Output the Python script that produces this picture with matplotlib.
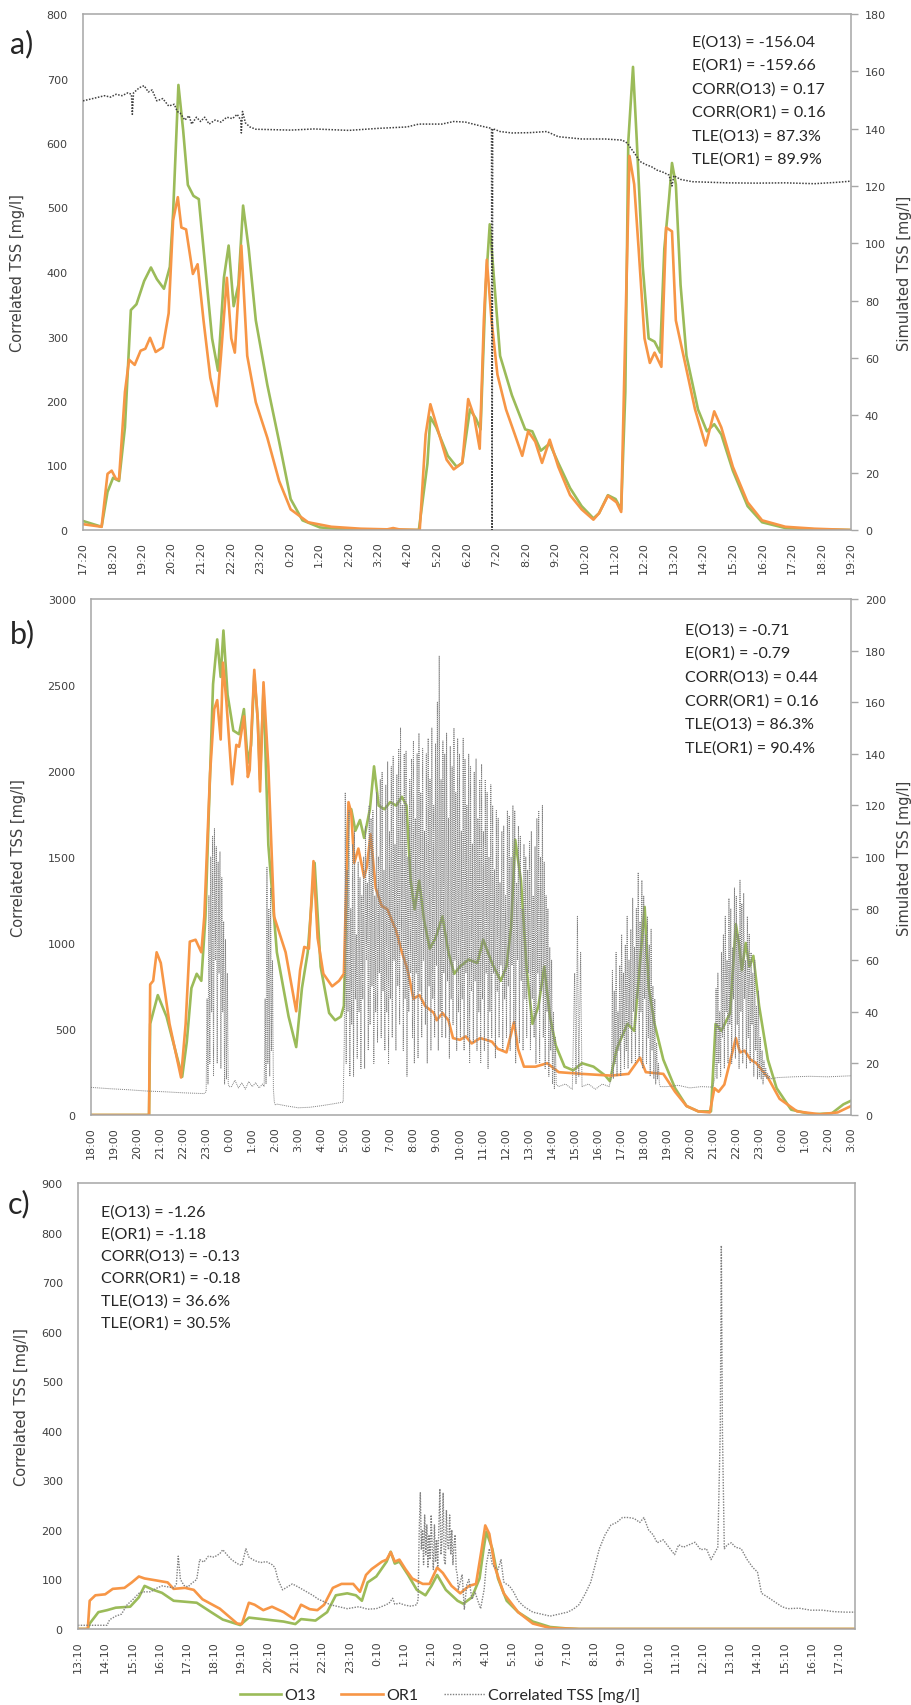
import numpy as np
import matplotlib.pyplot as plt

# series colours (Excel 2010 palette)
GREEN = '#9BBB59'
ORANGE = '#F79646'
SPINE = '#A6A6A6'
TXT = '#404040'

# ---------------- panel a: hours since 17:20 ----------------
ticks_a = ['17:20', '18:20', '19:20', '20:20', '21:20', '22:20', '23:20', '0:20', '1:20',
           '2:20', '3:20', '4:20', '5:20', '6:20', '7:20', '8:20', '9:20', '10:20', '11:20',
           '12:20', '13:20', '14:20', '15:20', '16:20', '17:20', '18:20', '19:20']

o13_a = [(0, 14), (0.63, 5), (0.83, 59), (1.02, 81), (1.22, 76), (1.42, 159), (1.62, 341),
         (1.81, 350), (2.07, 386), (2.30, 407), (2.50, 389), (2.74, 374), (2.94, 408),
         (3.05, 491), (3.23, 690), (3.39, 620), (3.55, 535), (3.74, 518), (3.92, 513),
         (4.08, 436), (4.37, 297), (4.57, 247), (4.77, 391), (4.93, 441), (5.10, 347),
         (5.26, 380), (5.42, 503), (5.61, 436), (5.85, 325), (6.24, 225), (6.64, 137),
         (7.03, 48), (7.43, 15), (8.02, 4), (9.0, 0.5), (11.37, 0), (11.66, 103), (11.76, 175),
         (11.96, 159), (12.35, 115), (12.65, 98), (12.84, 104), (13.1, 187), (13.3, 173),
         (13.46, 156), (13.63, 375), (13.77, 474), (13.93, 380), (14.12, 270), (14.52, 209),
         (14.97, 156), (15.21, 153), (15.5, 123), (15.8, 134), (16.09, 104), (16.49, 65),
         (16.88, 37), (17.28, 18), (17.47, 26), (17.77, 54), (18.03, 48), (18.22, 32),
         (18.36, 214), (18.46, 602), (18.62, 718), (18.75, 602), (18.95, 408), (19.15, 297),
         (19.35, 292), (19.54, 275), (19.68, 436), (19.84, 514), (19.94, 569), (20.07, 536),
         (20.23, 380), (20.43, 270), (20.82, 187), (21.12, 153), (21.37, 164), (21.61, 148),
         (22.0, 92), (22.5, 37), (22.99, 12), (23.78, 3), (24.76, 1), (26, 0)]

or1_a = [(0, 9), (0.63, 5), (0.83, 87), (0.97, 92), (1.12, 79), (1.22, 79), (1.42, 214),
         (1.56, 264), (1.75, 256), (1.95, 278), (2.11, 281), (2.27, 298), (2.46, 276),
         (2.70, 283), (2.90, 336), (3.05, 480), (3.21, 516), (3.33, 469), (3.49, 466),
         (3.72, 397), (3.88, 412), (4.08, 325), (4.31, 236), (4.53, 192), (4.67, 270),
         (4.87, 391), (5.02, 297), (5.14, 275), (5.36, 441), (5.56, 270), (5.85, 198),
         (6.24, 143), (6.64, 76), (7.03, 32), (7.62, 12), (8.41, 5), (9.40, 2), (10.3, 1),
         (10.5, 3), (10.7, 1), (11.4, 0), (11.6, 148), (11.76, 195), (12.06, 148),
         (12.31, 109), (12.55, 94), (12.84, 104), (13.04, 203), (13.24, 176), (13.43, 126),
         (13.57, 325), (13.67, 419), (13.83, 325), (14.03, 241), (14.32, 187), (14.62, 148),
         (14.87, 115), (15.07, 153), (15.31, 137), (15.54, 104), (15.8, 140), (16.09, 98),
         (16.49, 54), (16.88, 32), (17.28, 16), (17.47, 26), (17.77, 53), (18.06, 43),
         (18.22, 28), (18.34, 270), (18.5, 580), (18.66, 536), (18.81, 436), (19.01, 297),
         (19.19, 259), (19.35, 275), (19.58, 253), (19.74, 469), (19.94, 463), (20.07, 325),
         (20.33, 270), (20.72, 187), (21.08, 131), (21.37, 184), (21.61, 159), (22.0, 98),
         (22.5, 43), (22.99, 15), (23.78, 5), (24.76, 2), (26, 0)]

sim_a = [(0, 149.7), (0.33, 150.5), (0.53, 151), (0.73, 151.5), (0.93, 151), (1.12, 152),
         (1.32, 151.5), (1.52, 152.5), (1.64, 152), (1.67, 145), (1.71, 152.5), (1.91, 154.3),
         (2.07, 155), (2.21, 152.8), (2.34, 153.5), (2.5, 149.7), (2.7, 150.5), (2.9, 147.9),
         (3.09, 148.5), (3.19, 146), (3.29, 145.4), (3.45, 143), (3.59, 144.5), (3.68, 141.6),
         (3.84, 144), (3.98, 142.5), (4.12, 144), (4.27, 141.6), (4.47, 143), (4.67, 142.3),
         (4.87, 144), (5.06, 143.5), (5.22, 145), (5.34, 143), (5.36, 138.5), (5.4, 146),
         (5.5, 142), (5.65, 140.6), (5.85, 139.8), (7.03, 139.5), (7.82, 139.9), (9.0, 139.4),
         (9.99, 140.1), (10.97, 140.6), (11.37, 141.6), (12.15, 141.6), (12.55, 142.5),
         (12.94, 142.3), (13.44, 141), (13.83, 140.1), (13.85, 0), (13.87, 140), (14.12, 139),
         (14.52, 138.5), (15.11, 138.6), (15.7, 139), (16.09, 137.2), (16.49, 136.8),
         (16.88, 136.4), (17.67, 136.4), (18.26, 136), (18.42, 135), (18.56, 133), (18.7, 131),
         (18.85, 128.6), (19.05, 127.5), (19.25, 126.7), (19.44, 125.5), (19.64, 124.8),
         (19.84, 123.8), (19.94, 120), (20.0, 123.6), (20.23, 122.3), (20.63, 121.5),
         (21.22, 121.3), (21.81, 121.1), (22.79, 121), (23.78, 121.1), (24.76, 120.8),
         (25.55, 121.3), (26, 121.7)]

stats_a = ['E(O13) = -156.04', 'E(OR1) = -159.66', 'CORR(O13) = 0.17',
           'CORR(OR1) = 0.16', 'TLE(O13) = 87.3%', 'TLE(OR1) = 89.9%']

# ---------------- panel b: hours since 18:00 ----------------
ticks_b = ['18:00', '19:00', '20:00', '21:00', '22:00', '23:00', '0:00', '1:00', '2:00',
           '3:00', '4:00', '5:00', '6:00', '7:00', '8:00', '9:00', '10:00', '11:00', '12:00',
           '13:00', '14:00', '15:00', '16:00', '17:00', '18:00', '19:00', '20:00', '21:00',
           '22:00', '23:00', '0:00', '1:00', '2:00', '3:00']

o13_b = [(0, 0), (2.52, 0), (2.57, 530), (2.90, 697), (3.28, 572), (3.96, 222), (4.16, 426),
         (4.36, 738), (4.59, 821), (4.79, 780), (4.97, 1154), (5.12, 1778), (5.30, 2505),
         (5.48, 2765), (5.63, 2547), (5.75, 2817), (5.93, 2443), (6.18, 2235), (6.43, 2214),
         (6.64, 2360), (6.81, 2048), (6.95, 2150), (7.09, 2560), (7.24, 2300), (7.34, 1950),
         (7.49, 2480), (7.70, 1570), (8.07, 946), (8.58, 572), (8.91, 395), (9.16, 738),
         (9.41, 946), (9.59, 1258), (9.71, 1466), (9.97, 863), (10.34, 593), (10.6, 551),
         (10.85, 572), (10.98, 634), (11.18, 1778), (11.30, 1778), (11.48, 1653),
         (11.68, 1715), (11.86, 1611), (12.11, 1778), (12.29, 2027), (12.49, 1799),
         (12.74, 1778), (12.99, 1819), (13.25, 1799), (13.5, 1850), (13.7, 1799), (13.88, 1362),
         (14.05, 1196), (14.25, 1362), (14.46, 1133), (14.71, 967), (14.96, 1029),
         (15.26, 1154), (15.52, 946), (15.77, 821), (16.02, 863), (16.4, 904), (16.78, 884),
         (17.03, 1019), (17.41, 884), (17.79, 780), (18.04, 863), (18.24, 1092), (18.42, 1600),
         (18.67, 1362), (18.92, 842), (19.17, 530), (19.43, 634), (19.68, 863), (19.93, 572),
         (20.18, 405), (20.56, 281), (20.94, 260), (21.32, 301), (21.82, 281), (22.33, 229),
         (22.53, 197), (22.83, 385), (23.29, 530), (23.59, 489), (24.04, 1210), (24.22, 738),
         (24.47, 530), (24.85, 322), (25.36, 156), (25.86, 52), (26.37, 21), (26.92, 21),
         (27.12, 530), (27.37, 489), (27.75, 593), (28.0, 1110), (28.13, 1000), (28.26, 842),
         (28.43, 1000), (28.59, 863), (28.76, 925), (29.01, 634), (29.39, 322), (29.77, 156),
         (30.4, 31), (31.29, 4), (32.17, 10), (32.67, 62), (33, 83)]

or1_b = [(0, 0), (2.52, 0), (2.57, 759), (2.70, 780), (2.85, 946), (3.03, 884), (3.41, 530),
         (3.91, 218), (4.11, 530), (4.29, 1008), (4.54, 1019), (4.79, 946), (4.92, 1154),
         (5.17, 1985), (5.35, 2360), (5.48, 2412), (5.63, 2183), (5.73, 2630), (5.88, 2401),
         (6.13, 1923), (6.31, 2152), (6.43, 2141), (6.64, 2318), (6.81, 1965), (6.89, 2006),
         (7.09, 2588), (7.24, 2297), (7.34, 1881), (7.49, 2516), (7.70, 2027), (7.95, 1154),
         (8.45, 946), (8.91, 603), (9.08, 842), (9.26, 977), (9.46, 967), (9.66, 1476),
         (9.84, 1029), (10.09, 821), (10.47, 748), (10.77, 780), (10.98, 821), (11.18, 1819),
         (11.30, 1757), (11.43, 1466), (11.61, 1549), (11.86, 1383), (11.98, 1445),
         (12.14, 1632), (12.36, 1320), (12.62, 1216), (12.87, 1196), (13.25, 1071),
         (13.50, 946), (13.75, 842), (14.0, 676), (14.26, 697), (14.51, 634), (14.89, 593),
         (15.01, 551), (15.26, 593), (15.52, 551), (15.72, 447), (16.02, 437), (16.27, 457),
         (16.53, 416), (16.9, 447), (17.16, 437), (17.41, 426), (17.66, 385), (18.04, 364),
         (18.37, 541), (18.54, 385), (18.8, 281), (19.3, 281), (19.81, 301), (20.31, 249),
         (21.32, 239), (22.58, 229), (23.34, 239), (23.84, 333), (24.09, 249), (24.85, 239),
         (25.36, 135), (25.86, 52), (26.37, 21), (26.87, 15), (27.07, 156), (27.25, 135),
         (27.5, 177), (28.0, 447), (28.18, 364), (28.38, 374), (28.64, 322), (28.89, 301),
         (29.39, 218), (29.9, 94), (30.66, 21), (31.66, 4), (32.42, 15), (33, 52)]

# simulated TSS, quiet stretches as (hour, value)
sim_b_quiet = [(0, 10.7), (0.8, 10.2), (1.6, 9.8), (2.4, 9.3), (3.2, 9.0), (4.0, 8.6),
               (4.9, 8.3), (6.1, 11), (6.25, 13.5), (6.4, 10.5), (6.55, 12.5), (6.7, 10),
               (6.85, 13), (7.0, 11), (7.15, 12.5), (7.3, 10.5), (7.45, 12), (8.1, 4.2),
               (8.5, 3.5), (9.0, 2.8), (9.5, 3.0), (10.0, 3.6), (10.5, 4.3), (10.95, 5),
               (20.3, 11), (20.6, 12), (20.9, 10), (21.0, 55), (21.06, 12), (21.12, 77),
               (21.18, 15), (21.26, 63), (21.32, 11), (21.6, 12), (21.9, 10), (22.2, 12),
               (22.5, 11), (25.0, 11), (25.5, 11.5), (26.0, 10.5), (26.5, 11), (27.0, 10.8),
               (29.8, 14.5), (30.5, 14.8), (31.2, 15), (32.0, 14.8), (33, 15.2)]

# simulated TSS, busy stretches logged every 0.04 h: (start hour, values)
sim_b_busy = [
    (5.0, [9, 45, 12, 85, 20, 100, 40, 108, 15, 111, 60, 104, 20, 98, 55, 102, 18, 92, 40,
           75, 12, 68, 14, 55, 12, 11]),
    (7.52, [11, 45, 12, 96, 20, 80, 15, 88, 25, 60, 10, 5, 4]),
    (11.0, [30, 125, 20, 95, 40, 118, 15, 80, 35, 105,
            15, 110, 45, 70, 22, 98, 40, 92, 18, 85,
            45, 100, 18, 112, 60, 90, 25, 120, 35, 115,
            50, 118, 20, 85, 40, 125, 28, 100, 55, 130,
            30, 133, 48, 95, 25, 128, 40, 137, 20, 110,
            45, 135, 30, 139, 60, 105, 25, 132, 50, 142,
            35, 150, 65, 120, 25, 140, 45, 141, 15, 100,
            40, 130, 55, 138, 30, 145, 20, 115, 55, 140,
            22, 148, 48, 125, 30, 142, 60, 110, 35, 140,
            20, 146, 50, 130, 25, 150, 45, 120, 30, 144,
            58, 160, 25, 178, 40, 130, 30, 145, 55, 140,
            30, 148, 52, 115, 22, 143, 45, 135, 35, 150,
            60, 125, 25, 146, 40, 140, 30, 110, 45, 146,
            25, 138, 55, 120, 30, 140, 20, 135, 48, 105,
            28, 133, 52, 138, 25, 115, 40, 130, 20, 136,
            45, 110, 25, 130, 55, 125, 18, 100, 40, 128,
            30, 120, 55, 95, 22, 118, 48, 115, 30, 90,
            58, 110, 25, 112, 45, 85, 30, 118, 50, 116,
            25, 100, 58, 120, 35, 118, 20, 90, 60, 112,
            28, 108, 52, 80, 25, 105, 45, 100, 30, 95,
            55, 106, 25, 110, 45, 85, 30, 104, 20, 115,
            55, 118, 20, 100, 48, 120, 30, 98, 18, 85,
            40, 80, 15, 65, 25, 60, 12, 40, 10, 30,
            12]),
    (22.6, [15, 56, 14, 48, 20, 63, 15, 40, 25, 58,
            15, 70, 30, 55, 18, 66, 25, 77, 18, 60,
            35, 72, 20, 84, 40, 65, 20, 80, 45, 94,
            22, 75, 40, 91, 18, 85, 45, 70, 20, 77,
            30, 66, 15, 72, 25, 50, 14, 45, 12, 28,
            14, 20, 12, 11]),
    (27.1, [15, 49, 14, 55, 20, 40, 15, 63, 30, 70,
            18, 77, 40, 60, 20, 84, 35, 80, 20, 65,
            45, 88, 22, 85, 35, 70, 18, 91, 40, 82,
            20, 86, 45, 60, 18, 77, 30, 70, 20, 63,
            35, 55, 15, 60, 25, 42, 14, 48, 15, 30,
            14, 25, 12, 21, 15, 18, 14, 16, 14, 15,
            14]),
]

stats_b = ['E(O13) = -0.71', 'E(OR1) = -0.79', 'CORR(O13) = 0.44',
           'CORR(OR1) = 0.16', 'TLE(O13) = 86.3%', 'TLE(OR1) = 90.4%']

# ---------------- panel c: hours since 13:10 ----------------
ticks_c = ['13:10', '14:10', '15:10', '16:10', '17:10', '18:10', '19:10', '20:10', '21:10',
           '22:10', '23:10', '0:10', '1:10', '2:10', '3:10', '4:10', '5:10', '6:10', '7:10',
           '8:10', '9:10', '10:10', '11:10', '12:10', '13:10', '14:10', '15:10', '16:10',
           '17:10']

o13_c = [(0, 0), (0.36, 0), (0.43, 11), (0.75, 34), (1.07, 38), (1.39, 43), (1.92, 45),
         (2.24, 64), (2.45, 87), (2.77, 79), (3.09, 73), (3.52, 57), (4.37, 53), (4.90, 34),
         (5.33, 19), (5.97, 8), (6.29, 23), (6.93, 19), (7.57, 15), (8.0, 10), (8.21, 20),
         (8.74, 17), (9.17, 34), (9.49, 68), (9.91, 72), (10.23, 68), (10.45, 57), (10.66, 94),
         (10.98, 106), (11.36, 136), (11.51, 156), (11.66, 132), (11.83, 136), (12.15, 109),
         (12.47, 79), (12.79, 68), (13.01, 87), (13.22, 109), (13.54, 79), (13.97, 57),
         (14.18, 51), (14.50, 64), (14.78, 102), (14.93, 162), (15.03, 196), (15.25, 162),
         (15.46, 102), (15.78, 57), (16.20, 34), (16.74, 15), (17.38, 4), (18.02, 1),
         (18.44, 0), (28.6, 0)]

or1_c = [(0, 0), (0.36, 0), (0.43, 57), (0.64, 68), (1.0, 70), (1.28, 81), (1.71, 83),
         (1.98, 94), (2.24, 106), (2.45, 102), (2.88, 98), (3.30, 94), (3.52, 81), (3.94, 83),
         (4.26, 79), (4.58, 60), (5.22, 41), (5.86, 11), (6.03, 10), (6.29, 53), (6.50, 49),
         (6.82, 38), (7.14, 45), (7.57, 34), (7.95, 20), (8.21, 49), (8.53, 40), (8.81, 38),
         (9.06, 49), (9.38, 83), (9.70, 91), (10.13, 91), (10.38, 75), (10.60, 109),
         (10.81, 121), (11.19, 136), (11.36, 140), (11.51, 155), (11.66, 136), (11.83, 140),
         (12.05, 121), (12.30, 102), (12.69, 91), (12.94, 91), (13.22, 124), (13.43, 113),
         (13.75, 87), (14.07, 72), (14.39, 87), (14.65, 91), (14.86, 162), (14.99, 209),
         (15.14, 192), (15.35, 124), (15.67, 72), (16.20, 34), (16.74, 11), (17.38, 2),
         (18.44, 0), (28.6, 0)]

corr_c_quiet = [(0, 7.5), (1.07, 7.5), (1.13, 15), (1.17, 19), (1.39, 26), (1.60, 30),
                (1.81, 49), (2.03, 60), (2.24, 72), (2.45, 75), (2.67, 75), (2.88, 82),
                (3.09, 87), (3.30, 85), (3.52, 83), (3.62, 90), (3.69, 147), (3.77, 100),
                (3.90, 88), (4.05, 85), (4.16, 91), (4.37, 100), (4.48, 140), (4.63, 135),
                (4.80, 147), (5.01, 145), (5.22, 152), (5.33, 160), (5.48, 150), (5.65, 140),
                (5.86, 132), (6.03, 128), (6.18, 162), (6.29, 145), (6.50, 138), (6.72, 134),
                (6.93, 136), (7.14, 130), (7.25, 124), (7.36, 100), (7.53, 79), (7.68, 84),
                (7.89, 91), (8.10, 85), (8.42, 75), (8.64, 68), (8.85, 60), (9.06, 55),
                (9.28, 49), (9.59, 45), (9.91, 41), (10.13, 43), (10.34, 45), (10.66, 40),
                (10.98, 41), (11.30, 48), (11.45, 52), (11.58, 62), (11.66, 50), (11.83, 52),
                (12.05, 48), (12.26, 46), (12.47, 49),
                (14.14, 110), (14.22, 40), (14.31, 90), (14.39, 100), (14.50, 60), (14.61, 75),
                (14.73, 55), (14.82, 41), (14.95, 80), (15.03, 130), (15.14, 162), (15.25, 130),
                (15.35, 124), (15.46, 120), (15.57, 140), (15.67, 95), (15.78, 90), (15.88, 87),
                (16.03, 75), (16.20, 57), (16.42, 45), (16.74, 34), (17.06, 30), (17.38, 26),
                (17.70, 30), (18.02, 34), (18.23, 40), (18.44, 49), (18.66, 70), (18.87, 94),
                (19.04, 130), (19.19, 162), (19.40, 190), (19.62, 210), (19.83, 215),
                (20.04, 225), (20.26, 225), (20.47, 223), (20.68, 215), (20.83, 225), (21.0, 200),
                (21.17, 190), (21.32, 174), (21.54, 180), (21.75, 165), (21.96, 150),
                (22.11, 170), (22.28, 165), (22.49, 170), (22.71, 175), (22.92, 160),
                (23.13, 162), (23.30, 140), (23.55, 165), (23.64, 400), (23.68, 774),
                (23.72, 400), (23.79, 162), (23.9, 170), (24.05, 174), (24.20, 165),
                (24.41, 162), (24.63, 140), (24.84, 124), (25.01, 115), (25.16, 72), (25.37, 65),
                (25.69, 53), (25.91, 45), (26.12, 41), (26.54, 42), (26.97, 38), (27.40, 38),
                (27.83, 35), (28.25, 34), (28.6, 34)]

corr_c_busy = [
    (12.52, [60, 200, 275, 160, 200, 130, 230, 150, 210, 125,
             190, 140, 230, 160, 120, 210, 135, 180, 125, 200,
             283, 150, 180, 275, 140, 130, 240, 170, 160, 230,
             150, 200, 130, 170, 190, 120, 110, 80]),
]

stats_c = ['E(O13) = -1.26', 'E(OR1) = -1.18', 'CORR(O13) = -0.13',
           'CORR(OR1) = -0.18', 'TLE(O13) = 36.6%', 'TLE(OR1) = 30.5%']

W, H = 912, 1706
fig = plt.figure(figsize=(W / 100, H / 100), dpi=100)


def px_axes(left, top, right, bottom):
    return fig.add_axes([left / W, 1 - bottom / H, (right - left) / W, (bottom - top) / H])


def unzip(pairs):
    return [p[0] for p in pairs], [p[1] for p in pairs]


def merge(quiet, busy, step=0.04):
    # quiet points plus the evenly logged busy stretches, in time order
    pts = list(quiet)
    for start, vals in busy:
        pts += [(start + i * step, v) for i, v in enumerate(vals)]
    pts.sort(key=lambda p: p[0])
    return unzip(pts)


def style(ax, xlabels, ymax, ystep):
    ax.set_xlim(0, len(xlabels) - 1)
    ax.set_ylim(0, ymax)
    ax.set_yticks(range(0, ymax + 1, ystep))
    ax.set_xticks(range(len(xlabels)))
    ax.set_xticklabels(xlabels)
    for s in ax.spines.values():
        s.set_color(SPINE)
        s.set_linewidth(1.1)
    ax.tick_params(axis='y', length=0, pad=11, labelsize=8, labelcolor=TXT)
    ax.tick_params(axis='x', length=0, pad=8, labelsize=8, labelcolor=TXT, labelrotation=90)
    ax.set_ylabel('Correlated TSS [mg/l]', fontsize=10.5, color=TXT)


def right_axis(ax, x, y, ymax, ystep, color, lw):
    ax2 = ax.twinx()
    ax2.plot(x, y, color=color, lw=lw, ls=(0, (1, 1)))
    ax2.set_ylim(0, ymax)
    ax2.set_yticks(range(0, ymax + 1, ystep))
    ax2.tick_params(axis='y', length=5, width=1, color=SPINE, pad=5, labelsize=8, labelcolor=TXT)
    for s in ax2.spines.values():
        s.set_visible(False)
    ax2.set_ylabel('Simulated TSS [mg/l]', fontsize=10.5, color=TXT, labelpad=8)
    return ax2


def stats_text(x, y0, step, lines):
    for i, s in enumerate(lines):
        fig.text(x / W, 1 - (y0 + i * step) / H, s, fontsize=11.5, family='Lato',
                 color='#262626', va='baseline')


def panel_tag(x, y, s):
    fig.text(x / W, 1 - y / H, s, fontsize=22, family='Lato', color='#262626', va='baseline')


# panel a
ax_a = px_axes(83, 15, 851, 531)
for series, col in [(o13_a, GREEN), (or1_a, ORANGE)]:
    x, y = unzip(series)
    ax_a.plot(x, y, color=col, lw=1.9)
style(ax_a, ticks_a, 800, 100)
ax_a.yaxis.set_label_coords(-0.075, 0.5)
x, y = unzip(sim_a)
right_axis(ax_a, x, y, 180, 20, '#404040', 1.1)
stats_text(692, 46.5, 23.5, stats_a)
panel_tag(10, 53, 'a)')

# panel b
ax_b = px_axes(91, 600, 851, 1116)
for series, col in [(o13_b, GREEN), (or1_b, ORANGE)]:
    x, y = unzip(series)
    ax_b.plot(x, y, color=col, lw=1.9)
style(ax_b, ticks_b, 3000, 500)
ax_b.yaxis.set_label_coords(-0.085, 0.5)
x, y = merge(sim_b_quiet, sim_b_busy)
right_axis(ax_b, x, y, 200, 20, '#808080', 0.7)
stats_text(685, 634.5, 23.6, stats_b)
panel_tag(10, 643, 'b)')

# panel c
ax_c = px_axes(78, 1184, 855, 1630)
x, y = unzip(o13_c)
ax_c.plot(x, y, color=GREEN, lw=1.9, label='O13')
x, y = unzip(or1_c)
ax_c.plot(x, y, color=ORANGE, lw=1.9, label='OR1')
x, y = merge(corr_c_quiet, corr_c_busy)
ax_c.plot(x, y, color='#808080', lw=1.0, ls=(0, (1, 1)), label='Correlated TSS [mg/l]')
style(ax_c, ticks_c, 900, 100)
ax_c.set_xlim(0, 28.6)
ax_c.yaxis.set_label_coords(-0.063, 0.5)
stats_text(101, 1216.5, 22.2, stats_c)
panel_tag(8, 1213, 'c)')

fig.legend(loc='center', bbox_to_anchor=(440 / W, 1 - 1696 / H), ncol=3, frameon=False,
           prop={'family': 'Lato', 'size': 11.5}, handlelength=2.6, handletextpad=0.2,
           columnspacing=1.6, labelcolor='#262626')

fig.savefig('out.png', dpi=100)
